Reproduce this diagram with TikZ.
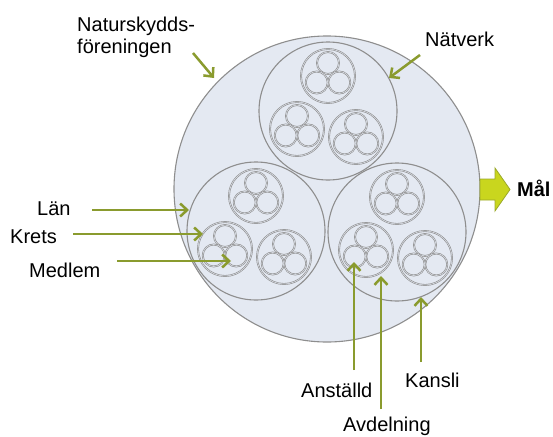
\documentclass[tikz,border=0pt]{standalone}
\usepackage{fontspec}
\setmainfont{Liberation Sans}
\usetikzlibrary{arrows.meta}
\definecolor{olive}{HTML}{8A9B2E}
\definecolor{ringgray}{HTML}{8E8E8E}
\definecolor{bgfill}{HTML}{E4E9F2}
\definecolor{goalfill}{HTML}{C9D61E}
\definecolor{goaledge}{HTML}{9AA82A}
\tikzset{
  ring/.style={draw=ringgray, line width=1.1pt},
  dring/.style={draw=ringgray, line width=0.65pt, double=bgfill, double distance=0.5pt},
  lbl/.style={anchor=base west, inner sep=0pt, font=\fontsize{20}{24}\selectfont},
  pointer/.style={draw=olive, line width=2.5pt, -{Straight Barb[length=7pt,width=13pt]}},
  unit/.pic={
    \draw[dring] (0,0) circle (27);
    \foreach \a in {270,30,150} \draw[dring] (\a:13) circle (11);
  },
  cluster/.pic={
    \draw[ring] (0,0) circle (69);
    \pic at (0,-35) {unit};
    \pic at (-31,18) {unit};
    \pic at (28,26) {unit};
  }
}
\begin{document}
\begin{tikzpicture}[x=1pt,y=-1pt]
\useasboundingbox (0,0) rectangle (553,436);
% big circle
\draw[ring, fill=bgfill] (327,189) circle (153);
\pic at (328,111) {cluster};
\pic at (256,231) {cluster};
\pic at (397,232) {cluster};
% goal arrow
\draw[draw=goaledge, fill=goalfill, line width=0.8pt, line join=miter]
  (480,179) -- (495,179) -- (495,168) -- (510,189.5) -- (495,211) -- (495,200) -- (480,200) -- cycle;
\node[lbl, font=\fontsize{20}{24}\selectfont\bfseries] (mal) at (517,196) {Mål};
% labels
\node[lbl] (nat1) at (77,31) {Naturskydds-};
\node[lbl] (nat2) at (77,53) {föreningen};
\node[lbl] (natv) at (425,47) {Nätverk};
\node[lbl] (lan) at (37,215) {Län};
\node[lbl] (krets) at (10,243) {Krets};
\node[lbl] (medlem) at (29,277) {Medlem};
\node[lbl] (anst) at (301,397) {Anställd};
\node[lbl] (avd) at (343,431) {Avdelning};
\node[lbl] (kansli) at (405,387) {Kansli};
% pointer coordinates
\coordinate (natS) at (193,53);  \coordinate (natE) at (214,78);
\coordinate (ntvS) at (420,55);  \coordinate (ntvE) at (389,78);
\coordinate (lanS) at (92,210);  \coordinate (lanE) at (189,210);
\coordinate (kreS) at (73,234);  \coordinate (kreE) at (203,234);
\coordinate (medS) at (117,261); \coordinate (medE) at (231,261);
\coordinate (ansS) at (354,370); \coordinate (ansE) at (354,262);
\coordinate (avdS) at (381,409); \coordinate (avdE) at (381,276);
\coordinate (kanS) at (421,362); \coordinate (kanE) at (421,297);
\draw[pointer] (natS) -- (natE);
\draw[pointer] (ntvS) -- (ntvE);
\draw[pointer] (lanS) -- (lanE);
\draw[pointer] (kreS) -- (kreE);
\draw[pointer] (medS) -- (medE);
\draw[pointer] (ansS) -- (ansE);
\draw[pointer] (avdS) -- (avdE);
\draw[pointer] (kanS) -- (kanE);
\end{tikzpicture}
\end{document}
